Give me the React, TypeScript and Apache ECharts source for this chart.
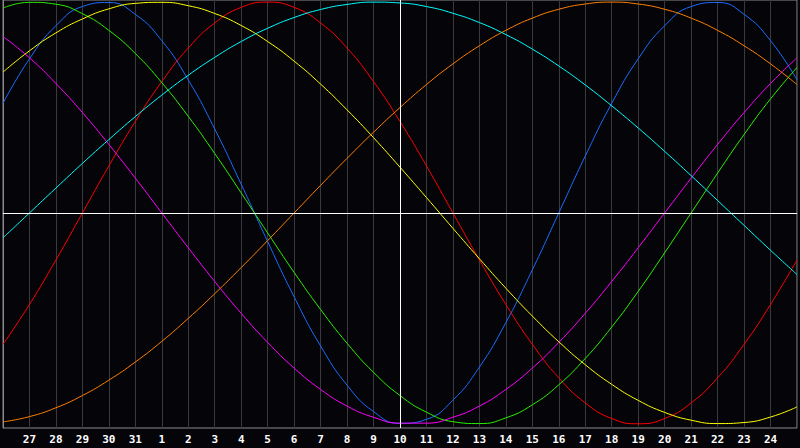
import React, { useEffect, useRef } from "react";
import * as echarts from "echarts";

const days = [
  "26", "27", "28", "29", "30", "31", "1", "2", "3", "4", "5", "6", "7", "8", "9", "10",
  "11", "12", "13", "14", "15", "16", "17", "18", "19", "20", "21", "22", "23", "24", "25",
];

const physical = [
  0.52, 0.731, 0.888, 0.979, 0.998, 0.942, 0.817, 0.631, 0.398, 0.136, -0.136, -0.398, -0.631,
  -0.817, -0.942, -0.998, -0.979, -0.888, -0.731, -0.52, -0.27, 0, 0.27, 0.52, 0.731, 0.888,
  0.979, 0.998, 0.942, 0.817, 0.631,
];

const emotional = [
  -0.623, -0.434, -0.223, 0, 0.223, 0.434, 0.623, 0.782, 0.901, 0.975, 1, 0.975, 0.901, 0.782,
  0.623, 0.434, 0.223, 0, -0.223, -0.434, -0.623, -0.782, -0.901, -0.975, -1, -0.975, -0.901,
  -0.782, -0.623, -0.434, -0.223,
];

const intellectual = [
  0.972, 0.999, 0.99, 0.945, 0.866, 0.756, 0.618, 0.458, 0.282, 0.095, -0.095, -0.282, -0.458,
  -0.618, -0.756, -0.866, -0.945, -0.99, -0.999, -0.972, -0.91, -0.815, -0.69, -0.541, -0.372,
  -0.189, 0, 0.189, 0.372, 0.541, 0.69,
];

const intuitive = [
  0.837, 0.736, 0.614, 0.476, 0.325, 0.165, 0, -0.165, -0.325, -0.476, -0.614, -0.736, -0.837,
  -0.916, -0.969, -0.997, -0.997, -0.969, -0.916, -0.837, -0.736, -0.614, -0.476, -0.325, -0.165,
  0, 0.165, 0.325, 0.476, 0.614, 0.736,
];

const aesthetic = [
  0.668, 0.769, 0.854, 0.92, 0.968, 0.994, 0.999, 0.983, 0.946, 0.889, 0.813, 0.72, 0.611, 0.489,
  0.357, 0.217, 0.073, -0.073, -0.217, -0.357, -0.489, -0.611, -0.72, -0.813, -0.889, -0.946,
  -0.983, -0.999, -0.994, -0.968, -0.92,
];

const awareness = [
  -0.991, -0.966, -0.924, -0.866, -0.793, -0.707, -0.609, -0.5, -0.383, -0.259, -0.131, 0, 0.131,
  0.259, 0.383, 0.5, 0.609, 0.707, 0.793, 0.866, 0.924, 0.966, 0.991, 1, 0.991, 0.966, 0.924,
  0.866, 0.793, 0.707, 0.609,
];

const spiritual = [
  -0.118, 0, 0.118, 0.235, 0.348, 0.457, 0.559, 0.653, 0.738, 0.813, 0.876, 0.927, 0.965, 0.989,
  1, 0.996, 0.979, 0.947, 0.903, 0.846, 0.777, 0.697, 0.607, 0.508, 0.403, 0.292, 0.177, 0.059,
  -0.059, -0.177, -0.292,
];

const todayLabel = "10";

const curves = [
  { name: "Physical", data: physical, color: "#1a6dff" },
  { name: "Emotional", data: emotional, color: "#ff0000" },
  { name: "Intellectual", data: intellectual, color: "#2af000" },
  { name: "Intuitive", data: intuitive, color: "#ff00ff" },
  { name: "Aesthetic", data: aesthetic, color: "#ffff00" },
  { name: "Awareness", data: awareness, color: "#ff8000" },
  { name: "Spiritual", data: spiritual, color: "#00ffff" },
];

export default function App() {
  const ref = useRef<HTMLDivElement>(null);

  useEffect(() => {
    if (!ref.current) return;
    const chart = echarts.init(ref.current, undefined, { renderer: "svg" });
    const last = days.length - 1;
    chart.setOption({
      animation: false,
      backgroundColor: "#050409",
      grid: {
        left: 0,
        right: -1,
        top: 0,
        bottom: 20,
        show: true,
        borderColor: "#8c8c8c",
        borderWidth: 1,
        backgroundColor: "transparent",
      },
      xAxis: {
        type: "category",
        data: days,
        boundaryGap: false,
        axisLine: { show: true, lineStyle: { color: "#8c8c8c", width: 1 } },
        axisTick: { show: false },
        splitLine: { show: true, lineStyle: { color: "#3a3a3e", width: 1 } },
        axisLabel: {
          interval: 0,
          color: "#ffffff",
          fontWeight: "bold",
          fontSize: 11,
          fontFamily: "DejaVu Sans Mono",
          margin: 6,
          formatter: (v: string, i: number) => (i === 0 || i === last ? "" : v),
        },
      },
      yAxis: {
        type: "value",
        min: -1.02,
        max: 1.01,
        axisLine: { show: true, lineStyle: { color: "#8c8c8c" } },
        axisTick: { show: false },
        axisLabel: { show: false },
        splitLine: { show: false },
      },
      series: [
        {
          type: "line",
          data: [],
          z: 1,
          silent: true,
          markLine: {
            silent: true,
            symbol: "none",
            label: { show: false },
            lineStyle: { color: "#ffffff", width: 1, type: "solid" },
            data: [{ xAxis: todayLabel }, { yAxis: 0 }],
          },
        },
        ...curves.map((c) => ({
          name: c.name,
          type: "line",
          data: c.data,
          smooth: true,
          showSymbol: false,
          symbol: "none",
          z: 3,
          silent: true,
          lineStyle: { color: c.color, width: 1 },
          itemStyle: { color: c.color },
        })),
      ],
    });
    return () => chart.dispose();
  }, []);

  return (
    <div
      ref={ref}
      style={{ position: "absolute", left: 0, top: 0, width: 800, height: 448 }}
    />
  );
}
